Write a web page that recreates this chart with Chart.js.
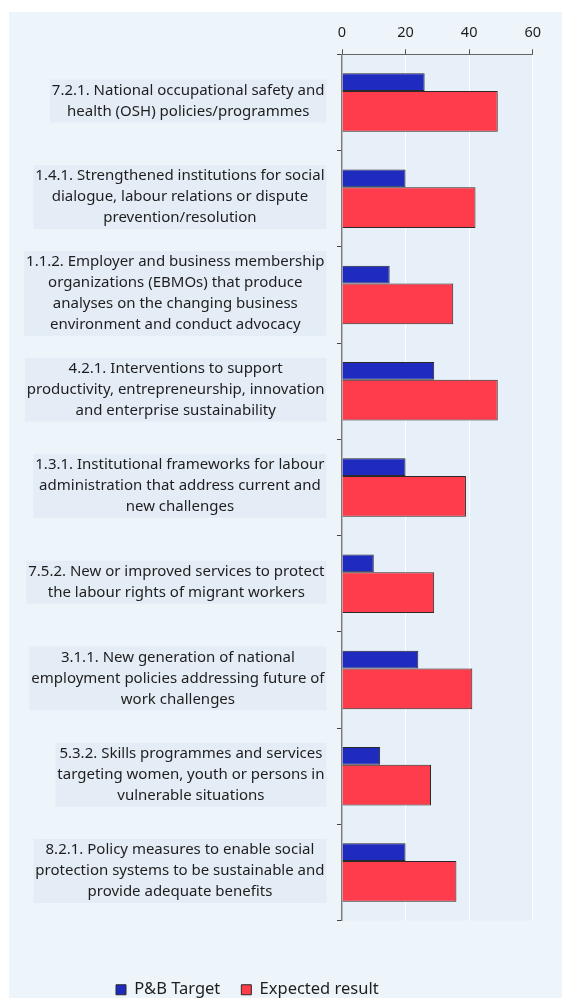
<!DOCTYPE html>
<html>
<head>
<meta charset="utf-8">
<script src="https://cdn.jsdelivr.net/npm/chart.js@4.4.1/dist/chart.umd.min.js"></script>
<style>
  html, body { margin: 0; padding: 0; background: #fff; overflow: hidden; }
  canvas { display: block; }
</style>
</head>
<body>
<canvas id="outputsChart" width="562" height="1008"></canvas>
<script>

// category labels, already wrapped the way the reference shows them
const categories = [
  ['7.2.1. National occupational safety and', 'health (OSH) policies/programmes'],
  ['1.4.1. Strengthened institutions for social', 'dialogue, labour relations or dispute', 'prevention/resolution'],
  ['1.1.2. Employer and business membership', 'organizations (EBMOs) that produce', 'analyses on the changing business', 'environment and conduct advocacy'],
  ['4.2.1. Interventions to support', 'productivity, entrepreneurship, innovation', 'and enterprise sustainability'],
  ['1.3.1. Institutional frameworks for labour', 'administration that address current and', 'new challenges'],
  ['7.5.2. New or improved services to protect', 'the labour rights of migrant workers'],
  ['3.1.1. New generation of national', 'employment policies addressing future of', 'work challenges'],
  ['5.3.2. Skills programmes and services', 'targeting women, youth or persons in', 'vulnerable situations'],
  ['8.2.1. Policy measures to enable social', 'protection systems to be sustainable and', 'provide adequate benefits']
];
const pbTarget = [26, 20, 15, 29, 20, 10, 24, 12, 20];
const expectedResult = [49, 42, 35, 49, 39, 29, 41, 28, 36];
const xTicks = [0, 20, 40, 60];

Chart.defaults.font.family = '"Noto Sans", sans-serif';
Chart.defaults.color = '#222';

// panel + plot backgrounds
const backgrounds = {
  id: 'backgrounds',
  beforeDraw(chart) {
    const {ctx, chartArea: a} = chart;
    ctx.save();
    ctx.fillStyle = '#eef5fa';
    ctx.fillRect(9, 12, chart.width - 9, chart.height - 12);
    ctx.fillStyle = '#e7eff8';
    ctx.fillRect(a.left, a.top, a.right - a.left, a.bottom - a.top);
    ctx.restore();
  }
};

// y labels: block sits right, lines centred, with a shaded box behind
const sideLabels = {
  id: 'sideLabels',
  afterDraw(chart) {
    const {ctx, chartArea, scales: {y}} = chart;
    const lh = 21;
    ctx.save();
    ctx.font = '15px "Noto Sans"';
    ctx.textAlign = 'center';
    ctx.textBaseline = 'middle';
    categories.forEach((lines, i) => {
      const cy = y.getPixelForTick(i) - 1.5;
      const w = Math.max(...lines.map(l => ctx.measureText(l).width)) + 4;
      const h = lines.length * lh + 1;
      const right = chartArea.left - 15.5;
      ctx.fillStyle = '#e4edf6';
      ctx.fillRect(right - w, cy - h / 2, w, h);
      ctx.fillStyle = '#1e1e1e';
      lines.forEach((l, j) => ctx.fillText(l, right - w / 2, cy - h / 2 + 0.5 + lh * j + lh / 2));
    });
    ctx.restore();
  }
};

new Chart(document.getElementById('outputsChart'), {
  type: 'bar',
  data: {
    labels: categories,
    datasets: [
      {label: 'P&B Target', data: pbTarget, backgroundColor: '#1f2abf', borderColor: '#2a2a2a', borderWidth: 1,
       categoryPercentage: 0.845, barPercentage: 0.436},
      {label: 'Expected result', data: expectedResult, backgroundColor: '#ff3c4b', borderColor: '#2a2a2a', borderWidth: 1,
       categoryPercentage: 0.37, barPercentage: 2.29}
    ]
  },
  options: {
    indexAxis: 'y',
    responsive: false,
    animation: false,
    layout: {padding: {top: 14.3, left: 95, right: 29.3, bottom: 0}},
    scales: {
      x: {
        position: 'top', min: 0, max: 60,
        afterBuildTicks: s => { s.ticks = xTicks.map(v => ({value: v})); },
        afterFit: s => { s.height = 40; },
        ticks: {font: {size: 14.5}, padding: 7.5, color: '#1e1e1e'},
        grid: {color: '#ffffff', lineWidth: 1, tickColor: '#555', tickLength: 5},
        border: {color: '#666', width: 1}
      },
      y: {
        afterFit: s => { s.width = 247; },
        ticks: {display: false},
        grid: {drawOnChartArea: false, tickColor: '#444', tickLength: 5, offset: true},
        border: {color: '#7a7a7a', width: 1.5}
      }
    },
    plugins: {
      tooltip: {enabled: false},
      legend: {
        position: 'bottom', align: 'start',
        title: {display: true, text: '', font: {size: 12}, padding: {top: 25.5, bottom: 0}},
        labels: {boxWidth: 10, boxHeight: 10, padding: 21, font: {size: 16.5}, color: '#1e1e1e'}
      }
    }
  },
  plugins: [backgrounds, sideLabels]
});
</script>
</body>
</html>
